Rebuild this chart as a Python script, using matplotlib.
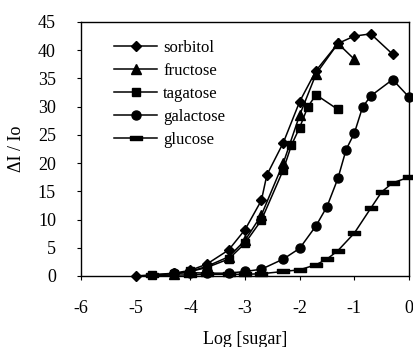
import matplotlib
matplotlib.use("Agg")
import matplotlib.pyplot as plt
from matplotlib.path import Path
import numpy as np

plt.rcParams['font.family'] = ['Liberation Serif', 'DejaVu Serif']

# Data
sorbitol_x = [-5.0, -4.3, -4.0, -3.7, -3.3, -3.0, -2.7, -2.6, -2.3, -2.0, -1.7, -1.3, -1.0, -0.7, -0.3]
sorbitol_y = [0.0, 0.5, 1.0, 2.1, 4.6, 8.2, 13.4, 17.9, 23.6, 30.9, 36.4, 41.2, 42.5, 42.9, 39.3]

fructose_x = [-4.3, -4.0, -3.7, -3.3, -3.0, -2.7, -2.3, -2.0, -1.7, -1.3, -1.0]
fructose_y = [0.4, 0.8, 1.7, 3.4, 6.3, 10.8, 20.0, 28.5, 35.8, 41.2, 38.4]

tagatose_x = [-4.7, -4.3, -4.0, -3.7, -3.3, -3.0, -2.7, -2.3, -2.15, -2.0, -1.85, -1.7, -1.3]
tagatose_y = [0.2, 0.4, 0.8, 1.5, 3.0, 5.8, 9.9, 18.8, 23.2, 26.3, 30.0, 32.1, 29.5]

galactose_x = [-4.3, -4.0, -3.7, -3.3, -3.0, -2.7, -2.3, -2.0, -1.7, -1.5, -1.3, -1.15, -1.0, -0.85, -0.7, -0.3, 0.0]
galactose_y = [0.5, 0.6, 0.5, 0.5, 0.8, 1.2, 3.0, 4.9, 8.9, 12.3, 17.3, 22.4, 25.3, 29.9, 31.9, 34.8, 31.7]

glucose_x = [-4.7, -4.0, -3.7, -3.3, -3.0, -2.7, -2.3, -2.0, -1.7, -1.5, -1.3, -1.0, -0.7, -0.5, -0.3, 0.0]
glucose_y = [0.1, 0.2, 0.3, 0.3, 0.3, 0.4, 0.8, 1.1, 2.0, 3.0, 4.5, 7.6, 12.0, 14.9, 16.5, 17.5]

x_ticks = [-6, -5, -4, -3, -2, -1, 0]
y_ticks = [0, 5, 10, 15, 20, 25, 30, 35, 40, 45]

fig = plt.figure(figsize=(4.14, 3.47), dpi=100)
ax = fig.add_axes([81/414, 1 - 276/347, 328/414, 254/347])

rect_marker = Path([(-1, -0.42), (1, -0.42), (1, 0.42), (-1, 0.42), (-1, -0.42)],
                   [Path.MOVETO, Path.LINETO, Path.LINETO, Path.LINETO, Path.CLOSEPOLY])

series = [
    ("sorbitol", sorbitol_x, sorbitol_y, "D", 5.0),
    ("fructose", fructose_x, fructose_y, "^", 6.5),
    ("tagatose", tagatose_x, tagatose_y, "s", 6.0),
    ("galactose", galactose_x, galactose_y, "o", 6.5),
    ("glucose", glucose_x, glucose_y, rect_marker, 8.0),
]

for name, xs, ys, mk, ms in series:
    ax.plot(xs, ys, color="black", lw=1.1, marker=mk, ms=ms,
            markerfacecolor="black", markeredgecolor="black", label=name, clip_on=False)

ax.set_xlim(-6, 0)
ax.set_ylim(0, 45)
ax.set_xticks(x_ticks)
ax.set_yticks(y_ticks)
ax.set_xticklabels([str(t) for t in x_ticks])
ax.set_yticklabels([str(t) for t in y_ticks])
ax.tick_params(axis='y', direction='out', length=3, width=0.8, pad=15, labelsize=13)
ax.tick_params(axis='x', direction='out', length=3, width=0.8, pad=14, labelsize=13)
for s in ax.spines.values():
    s.set_linewidth(1.0)

ax.set_xlabel("Log [sugar]", fontsize=13, labelpad=10)
ax.set_ylabel("ΔI / Io", fontsize=13, labelpad=9)

leg = ax.legend(loc="upper left", bbox_to_anchor=(0.065, 0.975), frameon=False,
                fontsize=12, handlelength=2.6, handletextpad=0.35,
                labelspacing=0.42, borderpad=0.2)

fig.savefig("out.png", dpi=100)
